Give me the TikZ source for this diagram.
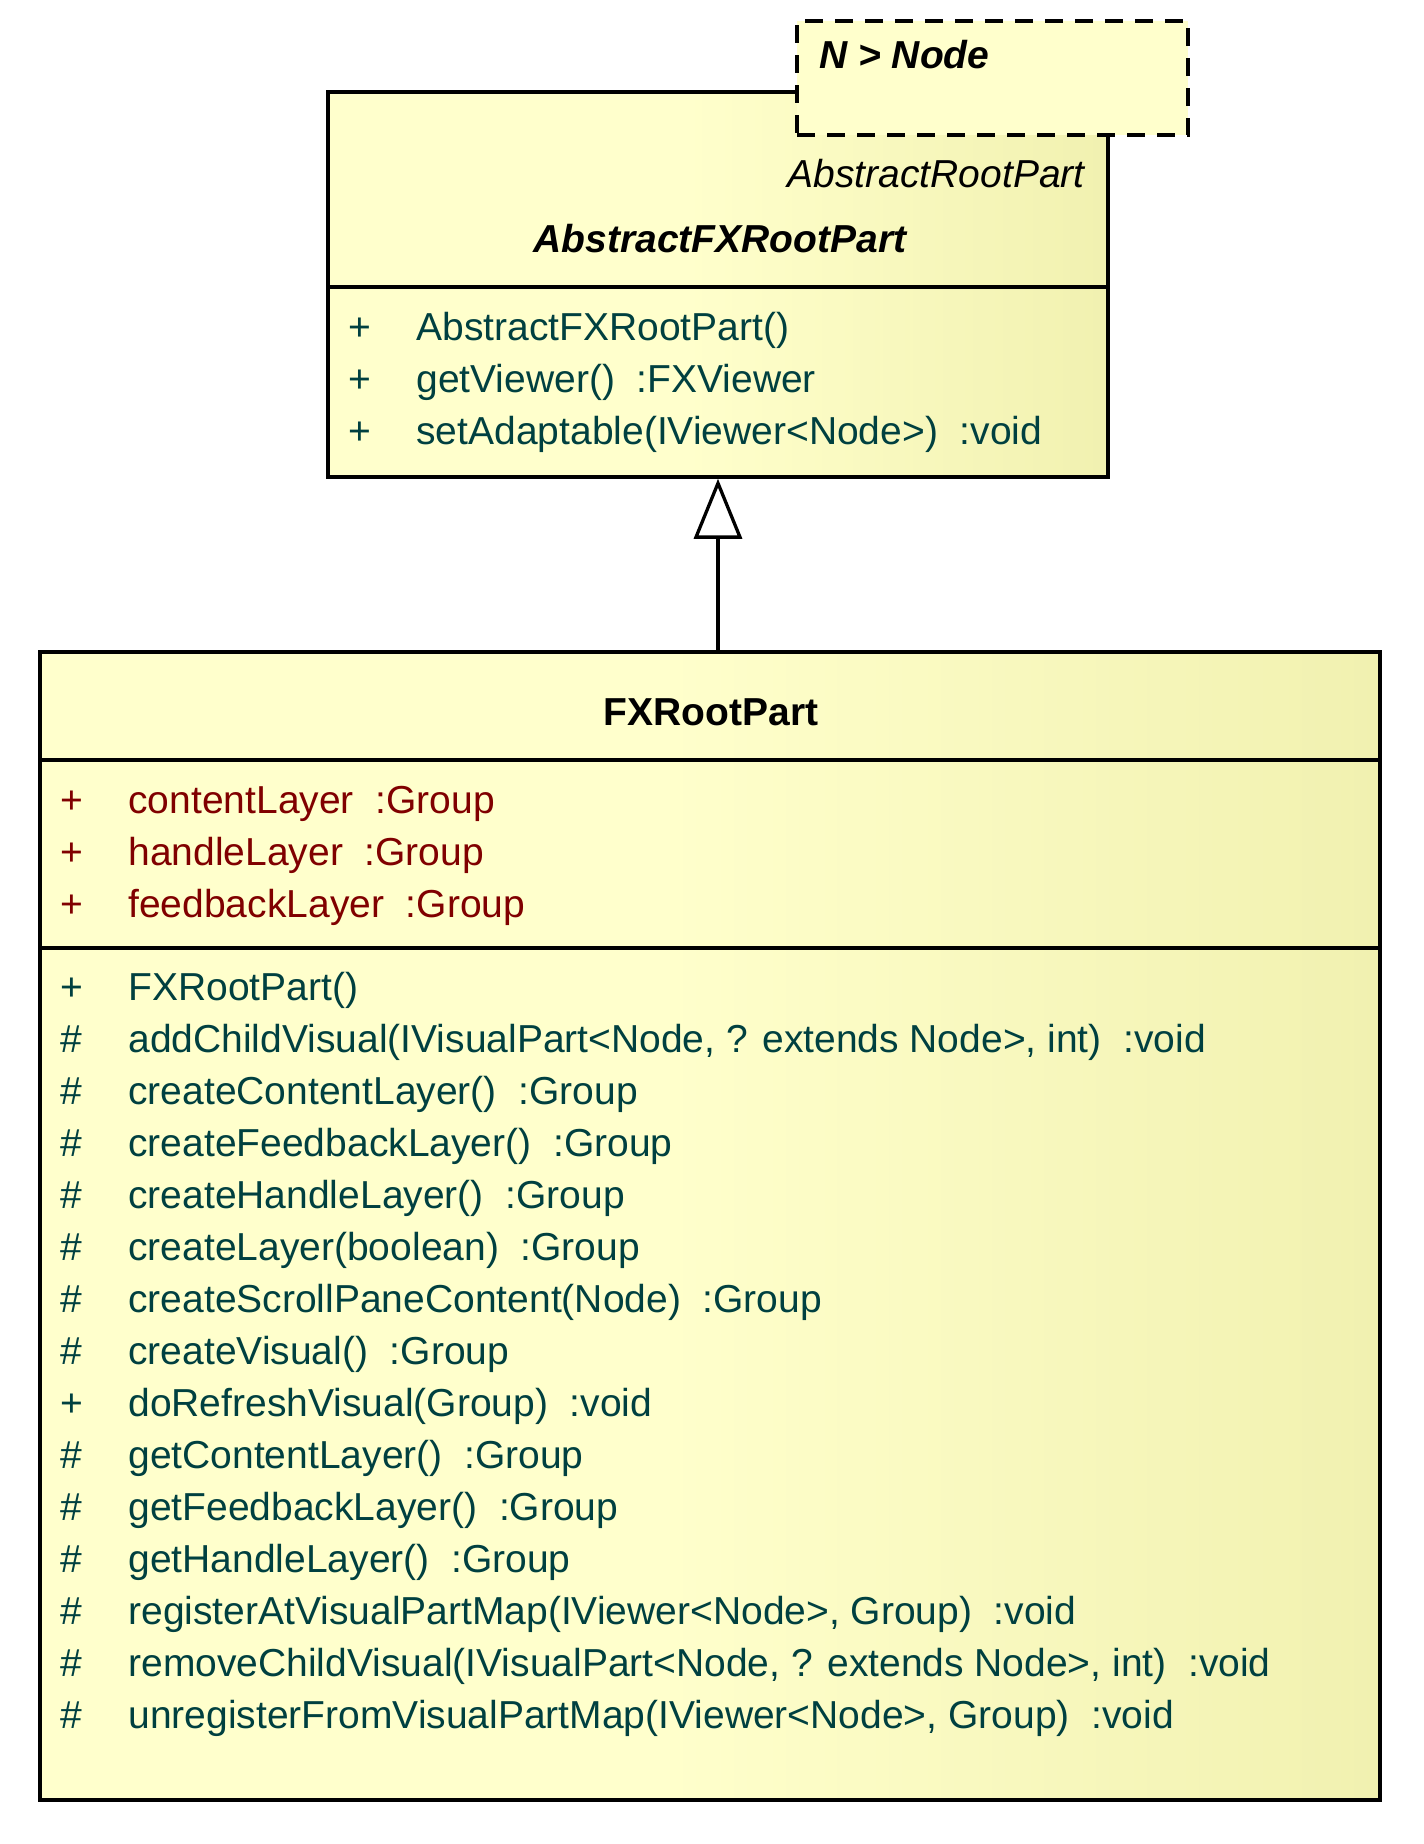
\documentclass[tikz,border=0pt]{standalone}
\usepackage{fontspec}
\setmainfont{Liberation Sans}
\usetikzlibrary{arrows.meta}
\pgfdeclarelayer{background}
\pgfdeclarelayer{foreground}
\pgfsetlayers{background,main,foreground}
\definecolor{umlpale}{RGB}{255,255,204}
\definecolor{umldark}{RGB}{228,228,150}
\definecolor{opcolor}{RGB}{0,64,64}
\definecolor{attrcolor}{RGB}{128,0,0}
\pgfdeclarehorizontalshading{classfill}{100bp}{color(0bp)=(umlpale); color(48bp)=(umlpale); color(100bp)=(umldark)}
\tikzset{
  classbox/.style={draw, rectangle, line width=1.75pt, shading=classfill, inner sep=0pt},
  tmplbox/.style={draw, rectangle, line width=1.75pt, dash pattern=on 9pt off 6pt, fill=umlpale, inner sep=0pt},
  member/.style={anchor=base west, inner sep=0pt, font=\fontsize{19.5}{24}\selectfont},
  op/.style={member, text=opcolor},
  attr/.style={member, text=attrcolor},
  divider/.style={line width=1.75pt}
}

\begin{document}
\begin{tikzpicture}[x=0.5pt,y=-0.5pt]
\useasboundingbox (0,0) rectangle (1424,1844);
\node[classbox, minimum width=390pt, minimum height=192.5pt] (abs) at (718,284.5) {};
\node[classbox, minimum width=670pt, minimum height=574pt] (fx) at (710,1226) {};
\begin{pgfonlayer}{foreground}
\node[tmplbox, minimum width=195.5pt, minimum height=57pt] (tmpl) at (992.5,78) {};
\node[member, font=\fontsize{19.5}{24}\selectfont\bfseries\itshape] (tmplname) at (819,68) {N > Node};
\end{pgfonlayer}
% AbstractFXRootPart
\draw[divider] (abs.west |- 0,287) -- (abs.east |- 0,287);
\node[anchor=base east, inner sep=0pt, font=\fontsize{19.5}{24}\selectfont\itshape] (absparent) at (1085,187) {AbstractRootPart};
\node[anchor=base, inner sep=0pt, font=\fontsize{19.5}{24}\selectfont\bfseries\itshape] (absname) at (720,252) {AbstractFXRootPart};
\foreach \mname [count=\i from 0] in {{AbstractFXRootPart()}, {getViewer()\ \ :FXViewer}, {setAdaptable(IViewer<Node>)\ \ :void}}{
  \node[op] (absvis\i) at (348,{340+52*\i}) {+};
  \node[op] (absop\i) at (416,{340+52*\i}) {\mname};
}
% FXRootPart
\draw[divider] (fx.west |- 0,760) -- (fx.east |- 0,760);
\draw[divider] (fx.west |- 0,948) -- (fx.east |- 0,948);
\node[anchor=base, inner sep=0pt, font=\fontsize{19.5}{24}\selectfont\bfseries] (fxname) at (711,725) {FXRootPart};
\foreach \mname [count=\i from 0] in {{contentLayer\ \ :Group}, {handleLayer\ \ :Group}, {feedbackLayer\ \ :Group}}{
  \node[attr] (fxvis\i) at (60,{813+52*\i}) {+};
  \node[attr] (fxattr\i) at (128,{813+52*\i}) {\mname};
}
\foreach \mvis/\mname [count=\i from 0] in {
  {+}/{FXRootPart()},
  {\#}/{addChildVisual(IVisualPart<Node, ? extends Node>, int)\ \ :void},
  {\#}/{createContentLayer()\ \ :Group},
  {\#}/{createFeedbackLayer()\ \ :Group},
  {\#}/{createHandleLayer()\ \ :Group},
  {\#}/{createLayer(boolean)\ \ :Group},
  {\#}/{createScrollPaneContent(Node)\ \ :Group},
  {\#}/{createVisual()\ \ :Group},
  {+}/{doRefreshVisual(Group)\ \ :void},
  {\#}/{getContentLayer()\ \ :Group},
  {\#}/{getFeedbackLayer()\ \ :Group},
  {\#}/{getHandleLayer()\ \ :Group},
  {\#}/{registerAtVisualPartMap(IViewer<Node>, Group)\ \ :void},
  {\#}/{removeChildVisual(IVisualPart<Node, ? extends Node>, int)\ \ :void},
  {\#}/{unregisterFromVisualPartMap(IViewer<Node>, Group)\ \ :void}}{
  \node[op] (fxopvis\i) at (60,{1000+52*\i}) {\mvis};
  \node[op] (fxop\i) at (128,{1000+52*\i}) {\mname};
}
% generalization
\draw[line width=1.65pt, -{Triangle[open, length=30pt, width=24pt]}] (abs.south |- fx.north) -- (abs.south);
\end{tikzpicture}
\end{document}
